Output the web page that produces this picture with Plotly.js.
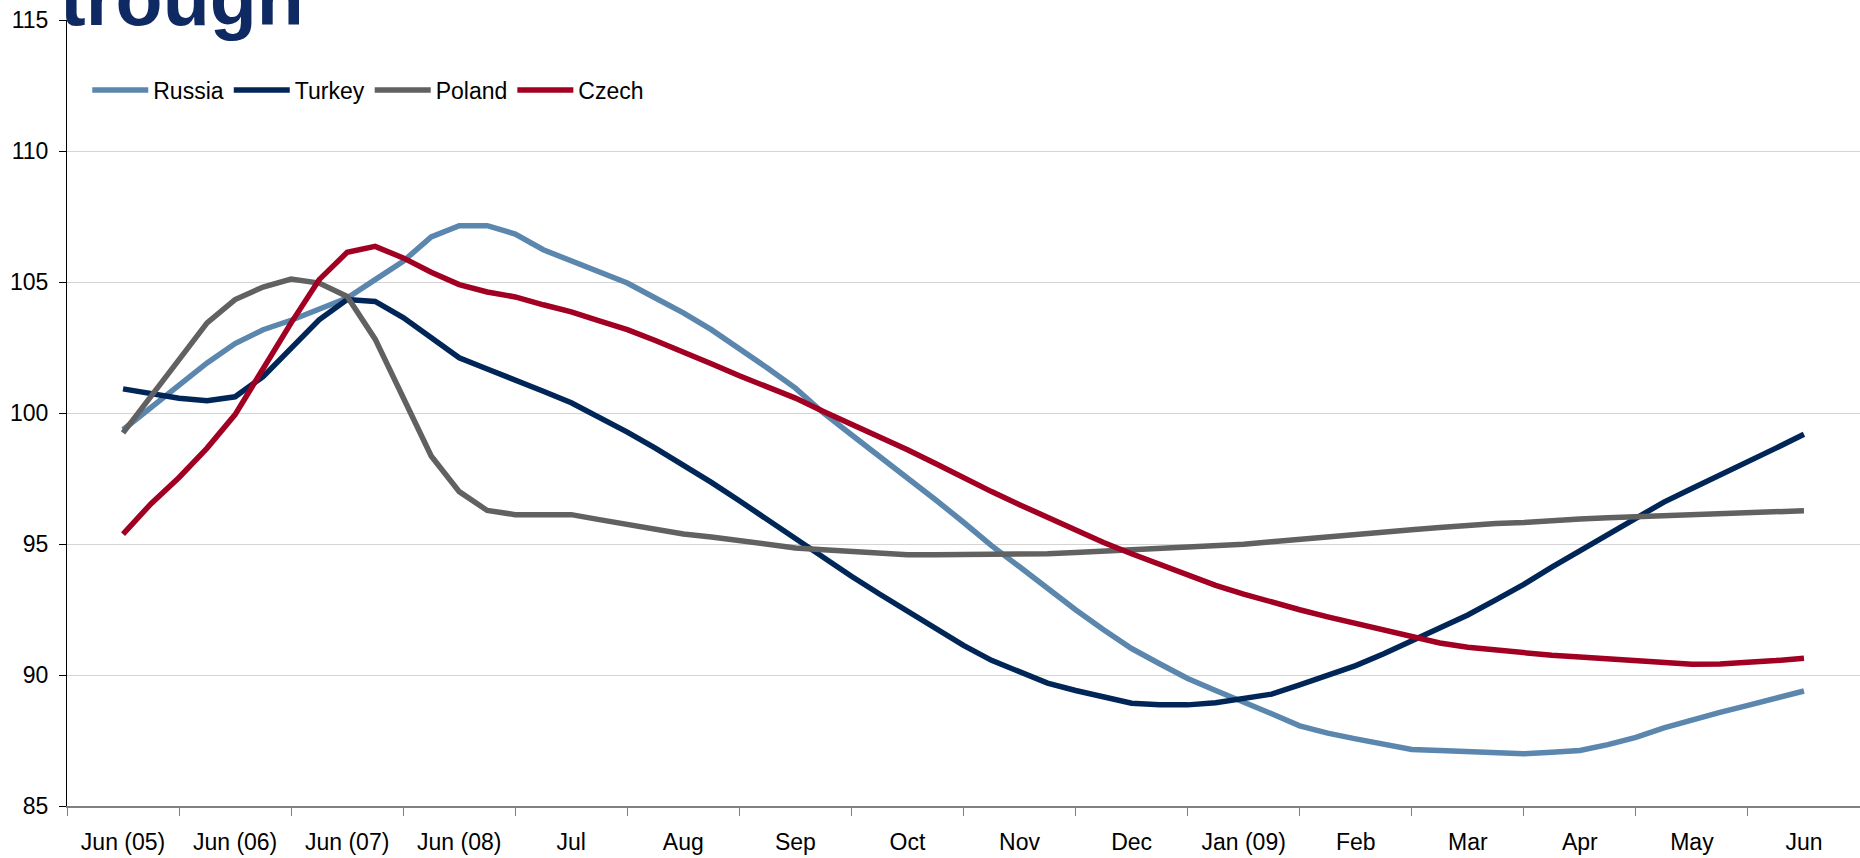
<!DOCTYPE html>
<html>
<head>
<meta charset="utf-8">
<script src="https://cdn.plot.ly/plotly-3.0.1.min.js"></script>
<style>
  html, body { margin: 0; padding: 0; background: #ffffff; }
  #chart { width: 1860px; height: 858px; }
</style>
</head>
<body>
<div id="chart"></div>
<script>
// Axis labels (one per category slot on the x axis)
const tickLabels = ['Jun (05)', 'Jun (06)', 'Jun (07)', 'Jun (08)', 'Jul', 'Aug', 'Sep', 'Oct',
                    'Nov', 'Dec', 'Jan (09)', 'Feb', 'Mar', 'Apr', 'May', 'Jun'];

// Observations per label slot
const stepsPerLabel = 4;

// Index levels, four observations per label slot
const russia = [99.36, 100.19, 101.08, 101.91, 102.65, 103.18, 103.54, 103.94, 104.39, 105.09,
  105.79, 106.72, 107.15, 107.15, 106.83, 106.23, 105.80, 105.41, 104.96, 104.39,
  103.82, 103.18, 102.48, 101.72, 100.95, 100.00, 99.17, 98.35, 97.56, 96.69,
  95.83, 94.94, 94.13, 93.29, 92.49, 91.73, 91.01, 90.43, 89.87, 89.41,
  88.99, 88.52, 88.06, 87.78, 87.56, 87.36, 87.16, 87.12, 87.07, 87.03,
  86.99, 87.05, 87.12, 87.34, 87.62, 87.98, 88.30, 88.57, 88.84, 89.12, 89.39];

const turkey = [100.92, 100.75, 100.56, 100.47, 100.62, 101.39, 102.44, 103.56, 104.33, 104.26,
  103.64, 102.89, 102.11, 101.68, 101.27, 100.83, 100.39, 99.85, 99.27, 98.66,
  98.03, 97.35, 96.65, 95.93, 95.17, 94.44, 93.77, 93.09, 92.43, 91.79,
  91.13, 90.56, 90.12, 89.69, 89.41, 89.15, 88.92, 88.86, 88.86, 88.94,
  89.09, 89.27, 89.62, 89.99, 90.36, 90.81, 91.29, 91.78, 92.29, 92.87,
  93.46, 94.12, 94.75, 95.39, 96.03, 96.60, 97.12, 97.62, 98.13, 98.66, 99.19];

const poland = [99.24, 100.61, 102.04, 103.44, 104.33, 104.81, 105.11, 104.96, 104.45, 102.82,
  100.56, 98.36, 97.00, 96.28, 96.12, 96.12, 96.12, 95.93, 95.74, 95.55,
  95.38, 95.27, 95.13, 94.97, 94.85, 94.78, 94.72, 94.66, 94.59, 94.59,
  94.59, 94.59, 94.60, 94.63, 94.68, 94.73, 94.80, 94.85, 94.89, 94.94,
  94.99, 95.09, 95.17, 95.25, 95.35, 95.45, 95.54, 95.63, 95.72, 95.78,
  95.82, 95.90, 95.95, 96.00, 96.04, 96.07, 96.12, 96.16, 96.20, 96.23, 96.27];

const czech = [95.38, 96.54, 97.54, 98.66, 99.94, 101.70, 103.44, 105.09, 106.13, 106.36,
  105.92, 105.37, 104.90, 104.62, 104.43, 104.13, 103.86, 103.52, 103.18, 102.77,
  102.35, 101.88, 101.42, 100.99, 100.57, 100.06, 99.58, 99.08, 98.60, 98.07,
  97.52, 97.00, 96.50, 96.01, 95.51, 95.06, 94.63, 94.22, 93.79, 93.42,
  93.09, 92.77, 92.49, 92.22, 91.96, 91.71, 91.44, 91.22, 91.06, 90.94,
  90.84, 90.75, 90.69, 90.62, 90.55, 90.47, 90.41, 90.42, 90.47, 90.55, 90.64];

const seriesNames = ['Russia', 'Turkey', 'Poland', 'Czech'];
const seriesColors = ['#5b86ad', '#002658', '#616161', '#a10022'];
const seriesValues = [russia, turkey, poland, czech];

const FONT = 'Liberation Sans, Arial, sans-serif';

const traces = seriesValues.map((vals, s) => ({
  type: 'scatter',
  mode: 'lines',
  name: seriesNames[s],
  x: vals.map((_, i) => i / stepsPerLabel),
  y: vals,
  line: { color: seriesColors[s], width: 5.5, shape: 'linear' },
  hoverinfo: 'skip'
}));

const layout = {
  width: 1860,
  height: 858,
  margin: { l: 67, r: 0, t: 20, b: 52 },
  paper_bgcolor: '#ffffff',
  plot_bgcolor: '#ffffff',
  font: { family: FONT, size: 23, color: '#000000' },
  showlegend: true,
  legend: {
    orientation: 'h',
    x: 0.0113, xanchor: 'left',
    y: 0.911, yanchor: 'middle',
    font: { family: FONT, size: 23, color: '#000000' },
    itemwidth: 56,
    bgcolor: 'rgba(0,0,0,0)',
    traceorder: 'normal'
  },
  xaxis: {
    range: [-0.5, 15.5],
    tickmode: 'array',
    tickvals: tickLabels.map((_, i) => i),
    ticktext: tickLabels,
    ticks: 'outside',
    ticklen: 8,
    tickcolor: 'rgba(0,0,0,0)',
    ticklabelstandoff: 6,
    tickfont: { family: FONT, size: 23, color: '#000000' },
    minor: {
      tickmode: 'linear', tick0: 0.5, dtick: 1,
      ticks: 'outside', ticklen: 8, tickwidth: 1, tickcolor: '#7f7f7f',
      showgrid: false
    },
    showline: true, linecolor: '#808080', linewidth: 2,
    showgrid: false, zeroline: false, fixedrange: true
  },
  yaxis: {
    range: [85, 115],
    tickmode: 'linear', tick0: 85, dtick: 5,
    ticks: 'outside', ticklen: 7, tickcolor: '#000000', tickwidth: 1,
    ticklabelstandoff: 6,
    tickfont: { family: FONT, size: 23, color: '#000000' },
    showline: true, linecolor: '#000000', linewidth: 1,
    showgrid: true, gridcolor: '#d4d4d4', gridwidth: 1,
    zeroline: false, fixedrange: true
  },
  annotations: [{
    text: 'trough',
    xref: 'paper', yref: 'paper',
    x: -0.0047, xanchor: 'left',
    y: 0.9723, yanchor: 'bottom',
    showarrow: false,
    borderpad: 0,
    font: { family: FONT, size: 77, color: '#0f2a62', weight: 'bold' }
  }]
};

Plotly.newPlot('chart', traces, layout, { staticPlot: true, displayModeBar: false });
</script>
</body>
</html>
